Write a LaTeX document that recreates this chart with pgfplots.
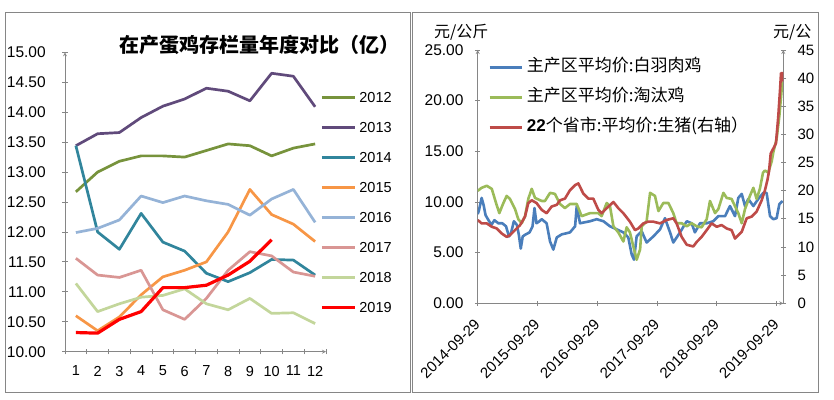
\documentclass[border=0pt]{standalone}
\usepackage{fontspec}
\setmainfont{Liberation Sans}
\newfontfamily\cjk{Noto Sans CJK SC}
\usepackage{pgfplots}
\pgfplotsset{compat=1.18}
\definecolor{axgray}{HTML}{868686}
\definecolor{c2012}{HTML}{77933C}
\definecolor{c2013}{HTML}{604A7B}
\definecolor{c2014}{HTML}{31859C}
\definecolor{c2015}{HTML}{F79646}
\definecolor{c2016}{HTML}{95B3D7}
\definecolor{c2017}{HTML}{D99694}
\definecolor{c2018}{HTML}{C3D69B}
\definecolor{c2019}{HTML}{FF0000}
\definecolor{sblue}{HTML}{4A7EBB}
\definecolor{sgreen}{HTML}{9BBB59}
\definecolor{sred}{HTML}{BE4B48}
\pgfplotsset{
  commonax/.style={
    scale only axis,
    axis line style={axgray, line width=0.8pt, -},
    tick align=outside, major tick length=5.5pt,
    tick style={axgray, line width=0.8pt},
    /pgf/number format/assume math mode=true,
  },
  twodec/.style={/pgf/number format/fixed, /pgf/number format/fixed zerofill, /pgf/number format/precision=2},
}
\begin{document}
\begin{tikzpicture}
\useasboundingbox (0pt,0pt) rectangle (834pt,399pt);
\draw[axgray, line width=0.8pt] (5.5pt,6.5pt) rectangle (410pt,386.5pt);
\draw[axgray, line width=0.8pt] (412.5pt,6.5pt) rectangle (818pt,386.5pt);
% ---------------- left panel ----------------
\begin{axis}[
  commonax,
  at={(65pt,47.3pt)}, anchor=south west,
  width=261pt, height=299.4pt,
  xmin=0.5, xmax=12.5, ymin=10, ymax=15,
  axis x line=bottom, axis y line=left,
  xtick={0.5,1.5,...,12.5}, x tick label as interval,
  xticklabels={1,2,3,4,5,6,7,8,9,10,11,12},
  xticklabel style={font=\fontsize{14.5}{14.5}\selectfont, yshift=-8pt},
  ytick={10,10.5,...,15},
  yticklabel style={font=\fontsize{15.5}{15.5}\selectfont, xshift=-13pt, twodec},
  legend image code/.code={\draw[#1] (0pt,0pt) -- (33pt,0pt);},
  legend cell align=left,
  legend style={draw=none, fill=none, at={(axis description cs:0.977,0.867)},
    anchor=north west, inner sep=0pt, row sep=20pt,
    font=\fontsize{14.5}{14.5}\selectfont,
    nodes={inner sep=0pt, text height=10pt, text depth=0pt},
    /tikz/every odd column/.append style={column sep=3pt}},
  every axis plot/.append style={line width=2.7pt, line join=round},
]
\addplot[c2012] coordinates {(1,12.67)(2,13.00)(3,13.18)(4,13.27)(5,13.27)(6,13.25)(7,13.36)(8,13.47)(9,13.44)(10,13.27)(11,13.40)(12,13.47)};
\addlegendentry{2012}
\addplot[c2013] coordinates {(1,13.44)(2,13.64)(3,13.66)(4,13.91)(5,14.10)(6,14.22)(7,14.40)(8,14.35)(9,14.19)(10,14.65)(11,14.60)(12,14.09)};
\addlegendentry{2013}
\addplot[c2014] coordinates {(1,13.44)(2,12.00)(3,11.71)(4,12.31)(5,11.83)(6,11.68)(7,11.31)(8,11.17)(9,11.32)(10,11.54)(11,11.53)(12,11.28)};
\addlegendentry{2014}
\addplot[c2015] coordinates {(1,10.60)(2,10.35)(3,10.58)(4,10.95)(5,11.25)(6,11.36)(7,11.50)(8,12.00)(9,12.71)(10,12.29)(11,12.13)(12,11.84)};
\addlegendentry{2015}
\addplot[c2016] coordinates {(1,11.99)(2,12.06)(3,12.20)(4,12.60)(5,12.49)(6,12.60)(7,12.52)(8,12.46)(9,12.28)(10,12.55)(11,12.71)(12,12.16)};
\addlegendentry{2016}
\addplot[c2017] coordinates {(1,11.56)(2,11.28)(3,11.24)(4,11.36)(5,10.70)(6,10.54)(7,10.89)(8,11.36)(9,11.67)(10,11.60)(11,11.33)(12,11.26)};
\addlegendentry{2017}
\addplot[c2018] coordinates {(1,11.14)(2,10.67)(3,10.80)(4,10.91)(5,10.94)(6,11.05)(7,10.80)(8,10.70)(9,10.89)(10,10.64)(11,10.65)(12,10.47)};
\addlegendentry{2018}
\addplot[c2019, line width=3.2pt] coordinates {(1,10.32)(2,10.31)(3,10.54)(4,10.67)(5,11.07)(6,11.07)(7,11.11)(8,11.28)(9,11.51)(10,11.87)};
\addlegendentry{2019}
\end{axis}
\node[anchor=west, inner sep=0pt, font=\cjk\bfseries\fontsize{20}{20}\selectfont] at (119pt,354pt) {在产蛋鸡存栏量年度对比（亿）};
% ---------------- right panel ----------------
\begin{axis}[
  commonax,
  at={(477.7pt,95.7pt)}, anchor=south west,
  width=305.6pt, height=253.3pt,
  xmin=0, xmax=1867, ymin=0, ymax=25,
  axis x line=bottom, axis y line=left,
  xtick={0,365,731,1096,1461,1826},
  xticklabels={2014-09-29,2015-09-29,2016-09-29,2017-09-29,2018-09-29,2019-09-29},
  xticklabel style={font=\fontsize{15}{15}\selectfont, xshift=2pt, yshift=-13pt, rotate=45, anchor=east},
  ytick={0,5,...,25},
  yticklabel style={font=\fontsize{15.5}{15.5}\selectfont, xshift=-8pt, twodec},
  every axis plot/.append style={line width=2.6pt, line join=round},
]
\addplot[sblue] coordinates {(0,8.8)(8,9.2)(24,10.4)(36,9.7)(48,8.7)(66,8.2)(84,7.75)(102,8.2)(126,7.9)(150,7.9)(173,7.6)(191,6.6)(203,6.9)(221,8.1)(239,7.75)(251,6.8)(263,5.4)(275,6.6)(293,6.8)(317,7.0)(335,7.6)(347,9.4)(359,7.9)(377,8.1)(391,8.3)(421,7.9)(442,6.1)(462,5.3)(483,6.5)(513,6.8)(564,7.0)(595,7.6)(605,9.6)(625,7.9)(686,8.1)(727,8.3)(768,8.1)(808,7.6)(849,7.3)(890,7.0)(920,6.5)(941,4.8)(955,4.3)(971,6.6)(1002,7.1)(1032,6.0)(1073,6.6)(1114,7.3)(1144,8.4)(1175,7.0)(1195,6.0)(1236,7.0)(1277,8.1)(1307,7.9)(1327,7.0)(1358,7.9)(1399,7.9)(1439,8.1)(1470,8.6)(1511,8.6)(1541,9.6)(1572,8.6)(1592,10.4)(1613,10.8)(1633,9.6)(1653,10.3)(1684,9.6)(1714,10.3)(1745,10.9)(1765,10.9)(1786,8.6)(1806,8.3)(1826,8.4)(1843,9.8)(1863,10.1)};
\addplot[sgreen] coordinates {(0,11.1)(24,11.4)(55,11.6)(86,11.3)(112,9.9)(132,8.9)(157,9.9)(177,10.6)(197,10.3)(228,9.3)(248,8.3)(269,7.9)(289,8.6)(309,10.3)(330,11.3)(350,10.4)(391,10.1)(411,10.1)(442,10.9)(472,10.8)(503,9.8)(533,9.4)(564,9.8)(605,9.8)(635,8.6)(686,8.9)(737,8.9)(757,8.6)(788,9.9)(808,9.6)(829,7.6)(859,7.0)(890,6.1)(910,7.5)(930,7.0)(951,5.6)(971,4.3)(992,5.3)(1002,7.6)(1032,8.1)(1053,10.9)(1083,10.6)(1104,9.1)(1134,9.9)(1165,9.9)(1195,8.9)(1215,7.9)(1246,7.9)(1277,7.6)(1307,7.9)(1338,7.6)(1368,7.5)(1399,8.3)(1419,10.1)(1450,8.9)(1470,9.3)(1501,10.9)(1521,10.4)(1551,10.3)(1592,8.9)(1613,7.9)(1633,9.3)(1663,10.6)(1684,11.4)(1704,10.3)(1724,11.3)(1743,12.9)(1755,13.1)(1775,12.9)(1796,14.0)(1806,14.9)(1826,16.2)(1843,18.5)(1857,21.1)(1863,21.9)};
\end{axis}
\begin{axis}[
  commonax,
  at={(477.7pt,95.7pt)}, anchor=south west,
  width=305.6pt, height=253.3pt,
  xmin=0, xmax=1867, ymin=0, ymax=45,
  axis x line=none, axis y line=right,
  ytick={0,5,...,45},
  yticklabel style={font=\fontsize{15}{15}\selectfont, xshift=8pt},
  legend image code/.code={\draw[#1] (0pt,0pt) -- (32pt,0pt);},
  legend cell align=left,
  legend style={draw=none, fill=none, at={(axis description cs:0.034,0.962)},
    anchor=north west, inner sep=0pt, row sep=15pt,
    font=\cjk\fontsize{17}{17}\selectfont,
    nodes={inner sep=0pt, text height=12pt, text depth=3pt},
    /tikz/every odd column/.append style={column sep=4pt}},
  every axis plot/.append style={line width=2.6pt, line join=round},
]
\addlegendimage{sblue, line width=2.6pt}
\addlegendentry{主产区平均价:白羽肉鸡}
\addlegendimage{sgreen, line width=2.6pt}
\addlegendentry{主产区平均价:淘汰鸡}
\addplot[sred] coordinates {(0,14.8)(24,14.2)(55,14.2)(86,13.6)(116,13.3)(147,12.4)(177,11.8)(197,12.1)(228,13.0)(259,13.9)(289,15.4)(309,17.8)(330,18.3)(360,17.8)(391,16.6)(421,16.0)(452,17.2)(483,17.5)(503,18.3)(533,18.6)(564,20.1)(595,21.0)(615,21.3)(645,19.5)(676,18.6)(706,18.6)(737,16.6)(757,16.0)(788,16.9)(829,18.0)(859,16.9)(890,16.0)(930,14.5)(961,13.0)(981,13.3)(1012,14.2)(1042,14.5)(1073,14.5)(1114,14.2)(1154,14.8)(1195,15.1)(1215,14.2)(1246,11.8)(1277,10.4)(1317,10.1)(1338,10.9)(1368,11.8)(1399,13.0)(1429,14.2)(1460,13.6)(1490,13.9)(1521,13.3)(1551,13.0)(1572,11.5)(1592,12.1)(1613,12.7)(1643,15.1)(1674,15.4)(1704,16.3)(1735,18.3)(1755,20.1)(1770,21.9)(1780,23.5)(1790,26.6)(1806,27.5)(1822,28.4)(1836,33.1)(1847,37.9)(1853,40.9)(1863,40.9)(1867,39.4)};
\addlegendentry{{\fontspec{Liberation Sans}\bfseries 22}个省市:平均价:生猪(右轴）}
\end{axis}
\node[anchor=west, inner sep=0pt, font=\cjk\fontsize{16}{16}\selectfont] at (434pt,367pt) {元/公斤};
\node[anchor=west, inner sep=0pt, font=\cjk\fontsize{16}{16}\selectfont] at (773pt,367pt) {元/公};
\end{tikzpicture}
\end{document}
